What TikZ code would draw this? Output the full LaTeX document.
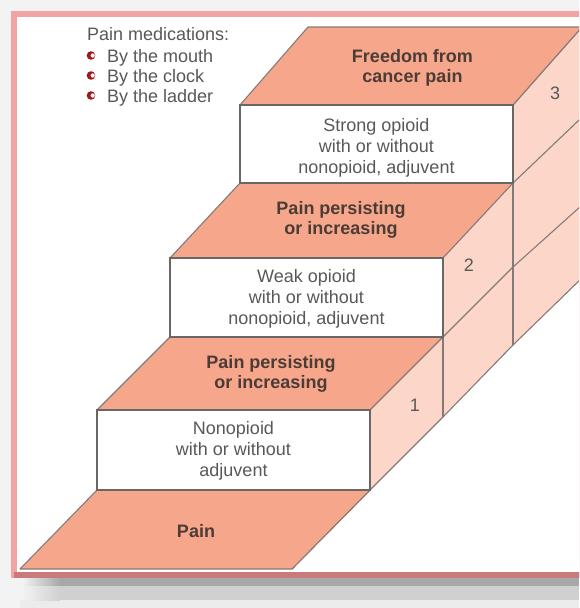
\documentclass[tikz,border=0pt]{standalone}
\usepackage{fontspec}
\setmainfont{Liberation Sans}
\definecolor{salmon}{HTML}{F6A68B}
\definecolor{sidepink}{HTML}{FCD6C8}
\definecolor{edgegray}{HTML}{857A77}
\definecolor{boxedge}{HTML}{6B6666}
\definecolor{txt}{HTML}{585858}
\definecolor{boldtxt}{HTML}{4B3C36}
\definecolor{framepink}{HTML}{F2A4A4}
\definecolor{framedark}{HTML}{C97A7A}
\definecolor{bulletred}{HTML}{A3191B}
\definecolor{outbg}{HTML}{F3F3F3}
\definecolor{shadowA}{HTML}{A8A8A8}
\definecolor{shadowB}{HTML}{D0D0D0}
\definecolor{shadowC}{HTML}{ECECEC}
\begin{document}
\begin{tikzpicture}[x=1pt,y=-1pt,
  facetext/.style={font=\fontsize{18}{20}\selectfont\bfseries, text=boldtxt, align=center, inner sep=0pt},
  boxtext/.style={font=\fontsize{18}{21}\selectfont, text=txt, align=center, inner sep=0pt},
  numtext/.style={font=\fontsize{18}{21}\selectfont, text=txt, inner sep=0pt},
  legtext/.style={font=\fontsize{18}{20.5}\selectfont, text=txt, inner sep=0pt, anchor=base west},
  topface/.style={fill=salmon, draw=edgegray, line width=1.1pt, line join=round},
  frontbox/.style={fill=white, draw=boxedge, line width=1.5pt},
  sideline/.style={draw=edgegray, line width=1.1pt},
  bulletball/.style={fill=bulletred},
]
\useasboundingbox (0,0) rectangle (579,608);
\begin{scope}
\clip (0,0) rectangle (579,608);
% background and frame
\fill[outbg] (0,0) rectangle (579,608);
\fill[shadowA] (60,577) rectangle (579,586);
\fill[shadowB] (60,586) rectangle (579,600);
\fill[shadowC] (20,600) rectangle (579,608);
\shade[left color=outbg, right color=shadowA] (22,577) rectangle (60,586);
\shade[left color=outbg, right color=shadowB] (22,586) rectangle (60,600);
\fill[framepink] (11,11) rectangle (600,578);
\fill[framedark] (14,572) rectangle (600,578);
\fill[white] (17,17) rectangle (600,572);

% key corners
\coordinate (p0l) at (20,569);  \coordinate (p0r) at (292,569);
\coordinate (b1bl) at (97,490); \coordinate (b1br) at (370,490);
\coordinate (b1tl) at (97,410); \coordinate (b1tr) at (370,410);
\coordinate (b2bl) at (170,337); \coordinate (b2br) at (443,337);
\coordinate (b2tl) at (170,258); \coordinate (b2tr) at (443,258);
\coordinate (b3bl) at (240,183); \coordinate (b3br) at (513,183);
\coordinate (b3tl) at (240,105); \coordinate (b3tr) at (513,105);
\coordinate (t3l) at (308,27);   \coordinate (t3r) at (582,27);
\coordinate (d1) at (443,417);   \coordinate (d2) at (513,345);
\coordinate (dend) at (620,241);
\coordinate (h2) at (513,267);   \coordinate (hend) at (620,171);
\coordinate (gend) at (620,81);

% side face
\fill[sidepink] (b1br) -- (b1tr) -- (b2br) -- (b2tr) -- (b3br) -- (b3tr) -- (t3r) -- (620,27) -- (dend) -- (d2) -- (d1) -- cycle;
\draw[sideline] (p0r) -- (b1br) -- (d1) -- (d2) -- (dend);
\draw[sideline] (b2br) -- (h2) -- (hend);
\draw[sideline] (b3br) -- (gend);
\draw[sideline] (b2br) -- (d1);
\draw[sideline] (b3br) -- (d2);
\draw[sideline] (b3tr) -- (t3r);

% top faces
\draw[topface] (p0l) -- (p0r) -- (b1br) -- (b1bl) -- cycle;
\draw[topface] (b1tl) -- (b1tr) -- (b2br) -- (b2bl) -- cycle;
\draw[topface] (b2tl) -- (b2tr) -- (b3br) -- (b3bl) -- cycle;
\draw[topface] (b3tl) -- (b3tr) -- (t3r) -- (t3l) -- cycle;

% front boxes
\draw[frontbox] (b1tl) rectangle (b1br);
\draw[frontbox] (b2tl) rectangle (b2br);
\draw[frontbox] (b3tl) rectangle (b3br);
\end{scope}

% texts
\node[facetext, anchor=base] (pain) at (196,537) {Pain};
\node[facetext] (f1) at (271,373.5) {Pain persisting\\or increasing};
\node[facetext] (f2) at (341,219.5) {Pain persisting\\or increasing};
\node[facetext] (f3) at (412.5,67.5) {Freedom from\\cancer pain};
\node[boxtext] (bx1) at (233.5,451) {Nonopioid\\with or without\\adjuvent};
\node[boxtext] (bx2) at (306.5,299) {Weak opioid\\with or without\\nonopioid, adjuvent};
\node[boxtext] (bx3) at (376.5,147.5) {Strong opioid\\with or without\\nonopioid, adjuvent};
\node[numtext] (n1) at (415,405) {1};
\node[numtext] (n2) at (469,265) {2};
\node[numtext] (n3) at (555,93) {3};

% legend
\node[legtext] (leg) at (87,40) {Pain medications:};
\node[legtext] (l1) at (107,62) {By the mouth};
\node[legtext] (l2) at (107,82) {By the clock};
\node[legtext] (l3) at (107,102) {By the ladder};
\foreach \yy/\nm in {55.5/ba, 75.5/bb, 95.5/bc}{
  \fill[bulletball] (91,\yy) circle[radius=4.3pt];
  \fill[white] (92.7,\yy) circle[radius=2.1pt];
}
\end{tikzpicture}
\end{document}
